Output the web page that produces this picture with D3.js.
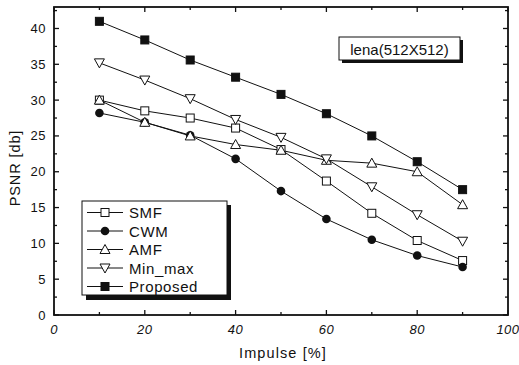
<!DOCTYPE html>
<html><head><meta charset="utf-8">
<script src="https://cdn.jsdelivr.net/npm/d3@7"></script>
<style>body{margin:0;background:#fff}svg{display:block}text{font-family:"Liberation Sans",Arial,sans-serif;fill:#111}</style>
</head><body><svg id="c" width="519" height="365"></svg>
<script>
const impulse = [10,20,30,40,50,60,70,80,90];
const smf      = [30.0,28.5,27.5,26.1,23.1,18.7,14.2,10.4,7.6];
const cwm      = [28.2,26.9,25.1,21.8,17.3,13.4,10.5,8.3,6.7];
const amf      = [30.0,26.9,25.0,23.8,23.0,21.6,21.2,20.0,15.4];
const minmax   = [35.2,32.8,30.2,27.3,24.8,21.8,17.9,14.0,10.3];
const proposed = [41.0,38.4,35.6,33.2,30.8,28.1,25.0,21.4,17.5];
const xTicks = [0,20,40,60,80,100];
const yTicks = [0,5,10,15,20,25,30,35,40];
const seriesNames = ["SMF","CWM","AMF","Min_max","Proposed"];
const seriesData = [smf,cwm,amf,minmax,proposed];
const seriesMarkers = ["square-open","circle","tri-up","tri-down","square"];
const titleText = "lena(512X512)";

const svg = d3.select("#c");
const L=54,R=508,T=7,B=315;
const x = d3.scaleLinear().domain([0,100]).range([L,R]);
const y = d3.scaleLinear().domain([0,43]).range([B,T]);

// frame
svg.append("rect").attr("x",L).attr("y",T).attr("width",R-L).attr("height",B-T)
  .attr("fill","none").attr("stroke","#111").attr("stroke-width",1.8);

// ticks
const g = svg.append("g").attr("stroke","#111").attr("stroke-width",1.3);
d3.range(0,101,10).forEach(v=>{
  const len = v%20===0?5:3;
  g.append("line").attr("x1",x(v)).attr("x2",x(v)).attr("y1",B).attr("y2",B-len);
  g.append("line").attr("x1",x(v)).attr("x2",x(v)).attr("y1",T).attr("y2",T+len);
});
d3.range(0,43,2.5).forEach(v=>{
  const len = v%5===0?5:3;
  g.append("line").attr("y1",y(v)).attr("y2",y(v)).attr("x1",L).attr("x2",L+len);
  g.append("line").attr("y1",y(v)).attr("y2",y(v)).attr("x1",R).attr("x2",R-len);
});
xTicks.forEach(v=>{
  svg.append("text").attr("x",x(v)).attr("y",334).attr("text-anchor","middle")
    .attr("font-size",13).attr("letter-spacing",0.5).attr("font-style","italic").text(v);
});
yTicks.forEach(v=>{
  svg.append("text").attr("x",46).attr("y",y(v)+4.5).attr("text-anchor","end")
    .attr("font-size",13).attr("letter-spacing",0.5).text(v);
});
svg.append("text").attr("x",283).attr("y",358).attr("text-anchor","middle").attr("font-size",14.5).attr("letter-spacing",1.1).text("Impulse [%]");
svg.append("text").attr("transform","translate(20,168) rotate(-90)").attr("text-anchor","middle").attr("font-size",14.5).attr("letter-spacing",0.9).text("PSNR [db]");

function marker(sel,type,cx,cy){
  const s=4;
  if(type==="square-open"||type==="square"){
    sel.append("rect").attr("x",cx-s).attr("y",cy-s).attr("width",2*s).attr("height",2*s)
      .attr("fill",type==="square"?"#111":"#fff").attr("stroke","#111").attr("stroke-width",1);
  } else if(type==="circle"){
    sel.append("circle").attr("cx",cx).attr("cy",cy).attr("r",4.3).attr("fill","#111");
  } else if(type==="tri-up"){
    sel.append("path").attr("d",`M${cx},${cy-5}L${cx+5},${cy+4}L${cx-5},${cy+4}Z`).attr("fill","#fff").attr("stroke","#111").attr("stroke-width",1);
  } else {
    sel.append("path").attr("d",`M${cx},${cy+5}L${cx+5},${cy-4}L${cx-5},${cy-4}Z`).attr("fill","#fff").attr("stroke","#111").attr("stroke-width",1);
  }
}
const line = d3.line().x((d,i)=>x(impulse[i])).y(d=>y(d));
seriesData.forEach((data,k)=>{
  svg.append("path").attr("d",line(data)).attr("fill","none").attr("stroke","#111").attr("stroke-width",1);
});
seriesData.forEach((data,k)=>{
  const gg=svg.append("g");
  data.forEach((d,i)=>marker(gg,seriesMarkers[k],x(impulse[i]),y(d)));
});

// title box
svg.append("rect").attr("x",342).attr("y",40).attr("width",121).attr("height",23).attr("fill","#111");
svg.append("rect").attr("x",339).attr("y",37).attr("width",121).attr("height",23).attr("fill","#fff").attr("stroke","#111").attr("stroke-width",1);
svg.append("text").attr("x",399.5).attr("y",54.5).attr("text-anchor","middle").attr("font-size",15).text(titleText);

// legend
svg.append("rect").attr("x",86).attr("y",205).attr("width",145).attr("height",95).attr("fill","#111");
svg.append("rect").attr("x",82).attr("y",201).attr("width",145).attr("height",94).attr("fill","#fff").attr("stroke","#111").attr("stroke-width",1);
seriesNames.forEach((n,k)=>{
  const yy=212.5+k*18.5;
  svg.append("line").attr("x1",87).attr("x2",123).attr("y1",yy).attr("y2",yy).attr("stroke","#111").attr("stroke-width",1);
  marker(svg,seriesMarkers[k],105,yy);
  svg.append("text").attr("x",129).attr("y",yy+5.5).attr("font-size",15).attr("letter-spacing",0.6).text(n);
});
</script></body></html>
